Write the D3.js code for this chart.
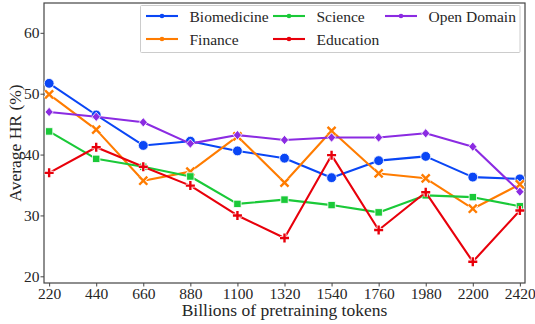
<!DOCTYPE html>
<html>
<head>
<meta charset="utf-8">
<script src="https://cdn.jsdelivr.net/npm/d3@7"></script>
<style>
  html, body { margin: 0; padding: 0; background: #fff; }
  svg { display: block; }
  svg text { font-family: "Liberation Serif", "DejaVu Serif", serif; }
</style>
</head>
<body>
<svg id="chart" width="535" height="324"></svg>
<script>
// Pretraining token budget (billions) on the x axis
const tokens = [220, 440, 660, 880, 1100, 1320, 1540, 1760, 1980, 2200, 2420];
const yTicks = [20, 30, 40, 50, 60];

// Average HR (%) per domain
const biomedicine = [51.7, 46.5, 41.5, 42.2, 40.6, 39.4, 36.2, 39.0, 39.7, 36.3, 36.0];
const finance     = [49.9, 44.1, 35.7, 37.2, 43.0, 35.4, 43.9, 36.9, 36.1, 31.1, 35.1];
const science     = [43.8, 39.3, 38.0, 36.4, 31.9, 32.6, 31.7, 30.5, 33.3, 33.0, 31.5];
const education   = [37.0, 41.2, 38.0, 34.9, 30.0, 26.3, 39.9, 27.6, 33.8, 22.4, 30.8];
const openDomain  = [47.0, 46.2, 45.3, 41.8, 43.2, 42.4, 42.8, 42.8, 43.5, 41.3, 33.9];

const seriesNames  = ["Biomedicine", "Finance", "Science", "Education", "Open Domain"];
const seriesValues = [biomedicine, finance, science, education, openDomain];
const colors  = ["#0a46f5", "#ff7c00", "#1ac938", "#e8000b", "#8b2be2"];
const shapes  = ["circle", "x", "square", "plus", "diamond"];

const svg = d3.select("#chart");
const m = { left: 44, right: 525, top: 3, bottom: 283 };

const x = d3.scaleLinear().domain([196, 2444]).range([m.left, m.right]);
const y = d3.scaleLinear().domain([18.9, 64.9]).range([m.bottom, m.top]);

const textColor = "#262626";
const serif = "'Liberation Serif', 'DejaVu Serif', serif";

// Axes
const xAxis = svg.append("g")
  .attr("transform", `translate(0,${m.bottom})`)
  .call(d3.axisBottom(x).tickValues(tokens).tickFormat(d3.format("d")).tickSizeOuter(0).tickSize(3.5).tickPadding(1));
const yAxis = svg.append("g")
  .attr("transform", `translate(${m.left},0)`)
  .call(d3.axisLeft(y).tickValues(yTicks).tickSizeOuter(0).tickSize(3.5).tickPadding(1));

[xAxis, yAxis].forEach(a => {
  a.attr("font-family", serif);
  a.select(".domain").remove();
  a.selectAll(".tick line").attr("stroke", "#444").attr("stroke-width", 1);
  a.selectAll(".tick text").attr("fill", textColor).attr("font-family", serif).style("font-size", "15.5px");
});

// Frame
svg.append("rect")
  .attr("x", m.left).attr("y", m.top)
  .attr("width", m.right - m.left).attr("height", m.bottom - m.top)
  .attr("fill", "none").attr("stroke", "#444").attr("stroke-width", 1.2);

// Axis titles
svg.append("text")
  .attr("x", (m.left + m.right) / 2).attr("y", 316)
  .attr("text-anchor", "middle").attr("fill", textColor).attr("font-family", serif)
  .style("font-size", "17.5px").text("Billions of pretraining tokens");
svg.append("text")
  .attr("transform", `translate(21,${(m.top + m.bottom) / 2}) rotate(-90)`)
  .attr("text-anchor", "middle").attr("fill", textColor).attr("font-family", serif)
  .style("font-size", "17.5px").text("Average HR (%)");

// Marker drawing
function drawMarker(g, shape, color, s) {
  if (shape === "circle") {
    g.append("circle").attr("r", s).attr("fill", color).attr("stroke", "#fff").attr("stroke-width", 0.8);
  } else if (shape === "square") {
    g.append("rect").attr("x", -s * 0.75).attr("y", -s * 0.75).attr("width", s * 1.5).attr("height", s * 1.5)
      .attr("fill", color).attr("stroke", "#fff").attr("stroke-width", 0.8);
  } else if (shape === "diamond") {
    const d = s * 0.95;
    g.append("path").attr("d", `M0,${-d}L${d * 0.88},0L0,${d}L${-d * 0.88},0Z`)
      .attr("fill", color).attr("stroke", "#fff").attr("stroke-width", 0.8);
  } else if (shape === "x") {
    const d = s * 0.82;
    const p = `M${-d},${-d}L${d},${d}M${-d},${d}L${d},${-d}`;
    g.append("path").attr("d", p).attr("stroke", "#fff").attr("stroke-width", 4).attr("fill", "none");
    g.append("path").attr("d", p).attr("stroke", color).attr("stroke-width", 2.4).attr("fill", "none");
  } else if (shape === "plus") {
    const d = s * 0.92;
    const p = `M${-d},0L${d},0M0,${-d}L0,${d}`;
    g.append("path").attr("d", p).attr("stroke", "#fff").attr("stroke-width", 4).attr("fill", "none");
    g.append("path").attr("d", p).attr("stroke", color).attr("stroke-width", 2.4).attr("fill", "none");
  }
}

const line = d3.line().x((d, i) => x(tokens[i])).y(d => y(d));

seriesValues.forEach((vals, si) => {
  const g = svg.append("g");
  g.append("path").datum(vals).attr("d", line)
    .attr("fill", "none").attr("stroke", colors[si]).attr("stroke-width", 2.1)
    .attr("stroke-linejoin", "round");
  vals.forEach((v, i) => {
    const mg = g.append("g").attr("transform", `translate(${x(tokens[i])},${y(v)})`);
    drawMarker(mg, shapes[si], colors[si], 4.9);
  });
});

// Legend
const legend = svg.append("g");
legend.append("rect").attr("x", 140.5).attr("y", 5.5).attr("width", 379.5).attr("height", 47)
  .attr("fill", "#fff").attr("fill-opacity", 0.85).attr("stroke", "#ccc").attr("stroke-width", 1).attr("rx", 1);
const legendPos = [
  [146, 16], [146, 39], [273, 16], [273, 39], [385, 16]
];
seriesNames.forEach((name, si) => {
  const [lx, ly] = legendPos[si];
  legend.append("line").attr("x1", lx).attr("x2", lx + 32).attr("y1", ly).attr("y2", ly)
    .attr("stroke", colors[si]).attr("stroke-width", 2.1);
  legend.append("circle").attr("cx", lx + 16).attr("cy", ly).attr("r", 2.3).attr("fill", colors[si]);
  legend.append("text").attr("x", lx + 43.5).attr("y", ly + 6).attr("fill", textColor)
    .attr("font-family", serif).style("font-size", "15.5px").text(name);
});
</script>
</body>
</html>
